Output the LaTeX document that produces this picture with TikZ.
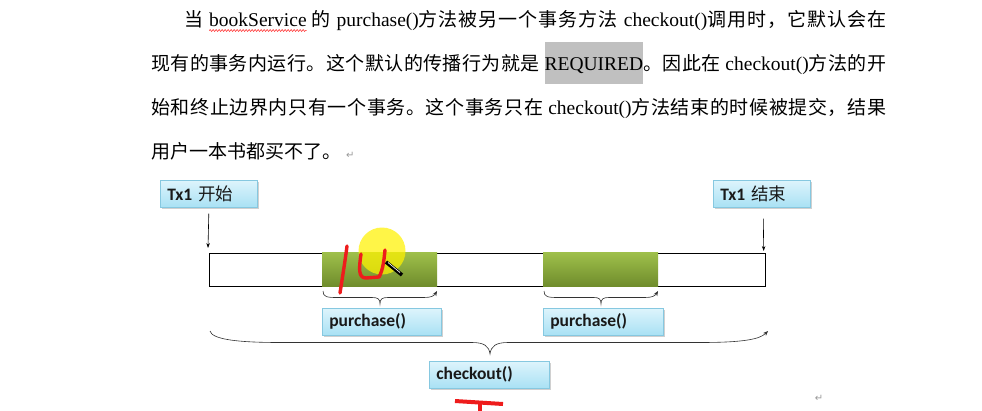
\documentclass[tikz,border=0pt]{standalone}
\usepackage{fontspec}
\setmainfont{Liberation Serif}
\newfontfamily\cjk{Noto Sans CJK SC}
\newfontfamily\lab{Carlito}
\newfontfamily\sym{DejaVu Sans}
\usetikzlibrary{calc,shadows,arrows.meta,decorations.pathmorphing}
\definecolor{hlgray}{HTML}{C0C0C0}
\definecolor{boxtop}{HTML}{DDF4FC}
\definecolor{boxbot}{HTML}{A9E1F4}
\definecolor{boxline}{HTML}{86C8E0}
\definecolor{gtop}{HTML}{9EBF4A}
\definecolor{gbot}{HTML}{6F8C2C}
\definecolor{redpen}{HTML}{EE1C1C}
\definecolor{markgray}{HTML}{9A9A9A}
% justified lines: glue after every CJK character
\def\cjloop#1{\ifx\relax#1\else#1\hskip 0pt plus 1fil\relax\expandafter\cjloop\fi}
\newcommand\cj[1]{{\cjk\fontsize{19}{22}\selectfont\cjloop#1\relax}}
\newcommand\lw[1]{{\fontsize{19.5}{22}\selectfont #1}}
\newcommand\gsp{\hskip 4pt plus 1fil\relax}
\newcommand\jline[2]{\hbox to #1{#2\unskip}}
\newcommand\hlbox[1]{{\setlength\fboxsep{0pt}\colorbox{hlgray}{\rule[-13.5pt]{0pt}{42pt}#1}}}
\newlength\wavew
\newcommand\redwave[1]{\settowidth\wavew{#1}\rlap{\tikz[x=1pt,y=1pt,baseline=0pt]{\useasboundingbox (0,0) rectangle (0,0);\draw[red, line width=0.5pt, decorate, decoration={snake, amplitude=0.9pt, segment length=3pt}] (0,-4) -- (\wavew,-4);}}#1}
\tikzset{
  para/.style={anchor=base west, inner sep=0pt, font=\fontsize{18}{22}\selectfont},
  lbl/.style={draw=boxline, line width=0.6pt, top color=boxtop, bottom color=boxbot,
    anchor=north west, inner xsep=7pt, inner ysep=0pt, minimum height=27pt,
    align=left, font=\lab\bfseries\fontsize{17.5}{19}\selectfont, text=black!90,
    drop shadow={shadow xshift=1.2pt, shadow yshift=-1.5pt, opacity=0.3, fill=black!60}},
  seg/.style={anchor=north west, inner sep=0pt, top color=gtop, bottom color=gbot, draw=none},
  arr/.style={line width=0.6pt, -{Stealth[length=5pt,width=3.5pt]}},
  brc/.style={line width=0.6pt, black!80, -{Stealth[length=5pt,width=4pt]}},
  redstroke/.style={redpen, line width=3.4pt, line cap=round, line join=round}
}
\begin{document}
\begin{tikzpicture}[x=1pt,y=-1pt]
\useasboundingbox (0,0) rectangle (982,410);
\fill[white] (0,0) rectangle (982,410);

% paragraph
\node[para] (l1) at (184,26.5) {\jline{702pt}{\cj{当}\gsp\lw{\redwave{bookService}}\gsp\cj{的}\gsp\lw{purchase()}\cj{方法被另一个事务方法}\gsp\lw{checkout()}\cj{调用时，它默认会在}}};
\node[para] (l2) at (151,70.5) {\jline{735pt}{\cj{现有的事务内运行。这个默认的传播行为就是}\gsp\lw{\hlbox{REQUIRED}}\cj{。因此在}\gsp\lw{checkout()}\cj{方法的开}}};
\node[para] (l3) at (151,114.5) {\jline{735pt}{\cj{始和终止边界内只有一个事务。这个事务只在}\gsp\lw{checkout()}\cj{方法结束的时候被提交，结果}}};
\node[para] (l4) at (151,158.5) {{\cjk\fontsize{19}{22}\selectfont 用户一本书都买不了。}\hspace{5pt}{\sym\fontsize{10}{10}\selectfont\color{markgray}↵}};

% bar and segments
\node[draw, line width=0.7pt, anchor=north west, inner sep=0pt, minimum width=556pt, minimum height=33pt] (bar) at (209,253) {};
\node[seg, minimum width=115pt, minimum height=33.5pt] (g1) at (322,252.7) {};
\node[seg, minimum width=115pt, minimum height=33.5pt] (g2) at (543,252.7) {};

% labels
\node[lbl, minimum width=97pt, text width=83pt] (tx1s) at (160,180) {Tx1 {\cjk\mdseries 开始}};
\node[lbl, minimum width=97pt, text width=83pt] (tx1e) at (713,180) {Tx1 {\cjk\mdseries 结束}};
\node[lbl, minimum width=119pt, text width=105pt] (p1) at (322,308) {purchase()};
\node[lbl, minimum width=120pt, text width=106pt] (p2) at (543,308) {purchase()};
\node[lbl, minimum width=120pt, text width=106pt] (co) at (429,361) {checkout()};

% arrows into the bar
\draw[arr] ($(tx1s.south)+(0,6)$) -- ($(bar.north west)+(-1,-5)$);
\draw[arr] ($(tx1e.south)+(1.5,11)$) -- ($(bar.north east)+(-2,-2)$);

% small braces
\draw[brc] (323,291) .. controls (323,297) and (327,297.5) .. (337,297.5) -- (372,297.5)
  .. controls (378,297.5) and (380,299) .. (380,304)
  .. controls (380,299) and (382,297.5) .. (388,297.5) -- (424,297.5)
  .. controls (431,297.5) and (434,296) .. (437,291);
\draw[brc] (544,291) .. controls (544,297) and (548,297.5) .. (558,297.5) -- (594,297.5)
  .. controls (599,297.5) and (601,299) .. (601,304)
  .. controls (601,299) and (603,297.5) .. (609,297.5) -- (645,297.5)
  .. controls (652,297.5) and (655,296) .. (658,291);

% big brace
\draw[brc] (210,331) .. controls (212,339) and (235,342.5) .. (280,342.5) -- (472,342.5)
  .. controls (484,342.5) and (489,346) .. (490,354)
  .. controls (491,346) and (496,342.5) .. (508,342.5) -- (700,342.5)
  .. controls (745,342.5) and (760,339) .. (768,331);

% annotations (highlighter, pen strokes, cursor)
\fill[yellow, opacity=0.72] (382,251) circle (23.5pt);
\draw[redstroke] (347,246) .. controls (345,262) and (342,280) .. (340,293);
\draw[redstroke] (361,254) .. controls (359,268) and (358,278) .. (366,278) -- (379,277)
  .. controls (383,270) and (384,260) .. (385,250);
\draw[black, line width=3.6pt] (386,262) -- (402,275);
\draw[white, line width=0.7pt] (388,262.5) -- (400,272.5);
\draw[redpen, line width=4pt] (455,401) -- (503,404);
\draw[redpen, line width=4pt] (480,403) -- (480,411);
\node[inner sep=0pt, text=markgray, font=\sym\fontsize{10}{10}\selectfont] (pm) at (819,398) {↵};
\end{tikzpicture}
\end{document}
